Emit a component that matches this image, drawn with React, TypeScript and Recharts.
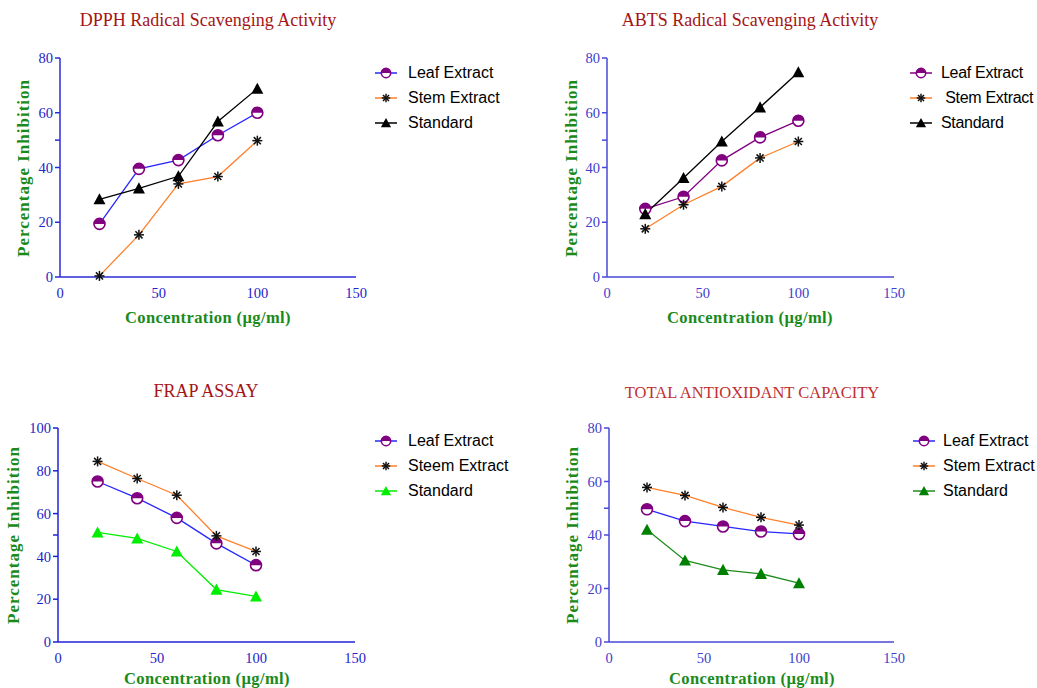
import React from 'react'
import { LineChart, Line, XAxis, YAxis } from 'recharts'

// concentrations (µg/ml) shared by every assay
const concentrations = [20, 40, 60, 80, 100]

const dpphLeaf = [19.4, 39.5, 42.7, 51.8, 60]
const dpphStem = [0.4, 15.4, 34, 36.7, 49.8]
const dpphStandard = [28.4, 32.4, 36.8, 56.8, 68.8]

const abtsLeaf = [24.9, 29.3, 42.6, 51, 57.1]
const abtsStem = [17.6, 26.4, 33.1, 43.5, 49.5]
const abtsStandard = [23, 36.2, 49.5, 62, 74.8]

const frapLeaf = [75, 67.2, 58, 46.1, 35.9]
const frapStem = [84.4, 76.4, 68.6, 49.6, 42.3]
const frapStandard = [51.2, 48.4, 42.3, 24.5, 21.3]

const tacLeaf = [49.6, 45.2, 43.2, 41.3, 40.4]
const tacStem = [57.8, 54.8, 50.3, 46.6, 43.7]
const tacStandard = [42, 30.5, 27, 25.5, 22]

const xTicks = [0, 50, 100, 150]
const yTicks80 = [0, 20, 40, 50, 60, 80]
const yTicks100 = [0, 20, 40, 50, 60, 80, 100]

const xLabel = 'Concentration (µg/ml)'
const yLabel = 'Percentage Inhibition'

const buildRows = (leaf: number[], stem: number[], standard: number[]) =>
  concentrations.map((c, i) => ({ conc: c, leaf: leaf[i], stem: stem[i], standard: standard[i] }))

type Kind = 'half' | 'star' | 'tri'

function marker(kind: Kind, color: string, cx: number, cy: number, key?: string, s = 1) {
  if (cx == null || cy == null) return <g key={key} />
  if (kind === 'half') {
    const r = 5.5 * s
    return (
      <g key={key}>
        <circle cx={cx} cy={cy} r={r} fill="#fff" stroke={color} strokeWidth={1.6} />
        <path d={`M${cx - r},${cy} A${r},${r} 0 0 1 ${cx + r},${cy} Z`} fill={color} />
      </g>
    )
  }
  if (kind === 'star') {
    const r = 5 * s
    const d = r * 0.7071
    return (
      <g key={key} stroke={color} strokeWidth={1.5}>
        <line x1={cx - r} y1={cy} x2={cx + r} y2={cy} />
        <line x1={cx} y1={cy - r} x2={cx} y2={cy + r} />
        <line x1={cx - d} y1={cy - d} x2={cx + d} y2={cy + d} />
        <line x1={cx - d} y1={cy + d} x2={cx + d} y2={cy - d} />
      </g>
    )
  }
  const h = 6 * s
  return (
    <polygon
      key={key}
      points={`${cx},${cy - h} ${cx - h},${cy + h * 0.85} ${cx + h},${cy + h * 0.85}`}
      fill={color}
    />
  )
}

type Series = { key: string; label: string; line: string; mark: string; kind: Kind }

type PanelProps = {
  title: string
  titleColor: string
  titleSize: number
  titleY: number
  titleX: number
  box: { x: number; y: number; w: number; h: number }
  plot: { l: number; r: number; t: number; b: number }
  yMax: number
  yTicks: number[]
  rows: any[]
  series: Series[]
  axisColor: string
  tickColor: string
  legend: { iconX: number; textX: number; y: number; spacing?: number }
  yLab: { x: number; y: number }
  xLab: { x: number; y: number }
}

const serif = '"Liberation Serif", "Times New Roman", serif'

function Panel(p: PanelProps) {
  const yAxisW = 40
  const xAxisH = 30
  const margin = {
    left: p.plot.l - p.box.x - yAxisW,
    top: p.plot.t - p.box.y,
    right: p.box.x + p.box.w - p.plot.r,
    bottom: p.box.y + p.box.h - p.plot.b - xAxisH,
  }
  const tick = { fill: p.tickColor, fontSize: 14.5, fontFamily: serif }
  return (
    <div style={{ position: 'absolute', left: p.box.x, top: p.box.y, width: p.box.w, height: p.box.h }}>
      <LineChart width={p.box.w} height={p.box.h} data={p.rows} margin={margin}>
        <XAxis
          dataKey="conc"
          type="number"
          domain={[0, 150]}
          ticks={xTicks}
          height={xAxisH}
          tickLine={false}
          tickSize={9}
          tickMargin={2}
          tick={tick}
          axisLine={{ stroke: p.axisColor, strokeWidth: 1.5 }}
        />
        <YAxis
          type="number"
          domain={[0, p.yMax]}
          ticks={p.yTicks}
          width={yAxisW}
          tickSize={5}
          tickMargin={2}
          tick={tick}
          tickFormatter={(v: number) => (v === 50 ? '' : String(v))}
          tickLine={{ stroke: p.axisColor, strokeWidth: 1.5 }}
          axisLine={{ stroke: p.axisColor, strokeWidth: 1.5 }}
        />
        {p.series.map((s) => (
          <Line
            key={s.key}
            dataKey={s.key}
            stroke={s.line}
            strokeWidth={1.3}
            isAnimationActive={false}
            dot={(d: any) => marker(s.kind, s.mark, d.cx, d.cy, `${s.key}-${d.index}`)}
          />
        ))}
      </LineChart>

      <div
        style={{
          position: 'absolute',
          left: p.titleX - p.box.x,
          top: p.titleY - p.box.y,
          transform: 'translate(-50%, -50%)',
          whiteSpace: 'nowrap',
          fontFamily: serif,
          fontSize: p.titleSize,
          color: p.titleColor,
        }}
      >
        {p.title}
      </div>

      <div
        style={{
          position: 'absolute',
          left: p.yLab.x - p.box.x,
          top: p.yLab.y - p.box.y,
          transform: 'translate(-50%, -50%) rotate(-90deg)',
          whiteSpace: 'nowrap',
          fontFamily: serif,
          fontWeight: 'bold',
          fontSize: 17,
          letterSpacing: 1,
          color: '#1a8a1a',
        }}
      >
        {yLabel}
      </div>

      <div
        style={{
          position: 'absolute',
          left: p.xLab.x - p.box.x,
          top: p.xLab.y - p.box.y,
          transform: 'translate(-50%, -50%)',
          whiteSpace: 'nowrap',
          fontFamily: serif,
          fontWeight: 'bold',
          fontSize: 16.5,
          letterSpacing: 0.4,
          color: '#1a8a1a',
        }}
      >
        {xLabel}
      </div>

      {p.series.map((s, i) => {
        const cy = p.legend.y + i * 25 - p.box.y
        return (
          <div key={s.key} style={{ position: 'absolute', left: 0, top: 0 }}>
            <svg
              width={24}
              height={16}
              style={{ position: 'absolute', left: p.legend.iconX - p.box.x, top: cy - 8 }}
            >
              <line x1={0} y1={8} x2={22} y2={8} stroke={s.line} strokeWidth={1.5} />
              {marker(s.kind, s.mark, 11, 8, undefined, 0.85)}
            </svg>
            <div
              style={{
                position: 'absolute',
                left: p.legend.textX - p.box.x,
                top: cy - 10,
                whiteSpace: 'pre',
                fontFamily: '"Liberation Sans", Arial, sans-serif',
                fontSize: 16,
                letterSpacing: p.legend.spacing ?? 0,
                lineHeight: '20px',
                color: '#000',
              }}
            >
              {s.label}
            </div>
          </div>
        )
      })}
    </div>
  )
}

export default function App() {
  return (
    <div style={{ position: 'relative', width: 1037, height: 688, background: '#fff', overflow: 'hidden' }}>
      <style>{'body{margin:0}'}</style>
      <Panel
        title="DPPH Radical Scavenging Activity"
        titleColor="#a31515"
        titleSize={18}
        titleX={208}
        titleY={20}
        box={{ x: 0, y: 0, w: 518, h: 344 }}
        plot={{ l: 60, r: 356, t: 58, b: 277 }}
        yMax={80}
        yTicks={yTicks80}
        rows={buildRows(dpphLeaf, dpphStem, dpphStandard)}
        series={[
          { key: 'leaf', label: 'Leaf Extract', line: '#2626ff', mark: '#800080', kind: 'half' },
          { key: 'stem', label: 'Stem Extract', line: '#ff7f2a', mark: '#111', kind: 'star' },
          { key: 'standard', label: 'Standard', line: '#000', mark: '#000', kind: 'tri' },
        ]}
        axisColor="#2b2bd9"
        tickColor="#2323c8"
        legend={{ iconX: 375, textX: 408, y: 73 }}
        yLab={{ x: 24, y: 168 }}
        xLab={{ x: 208, y: 318 }}
      />
      <Panel
        title="ABTS Radical Scavenging Activity"
        titleColor="#a31515"
        titleSize={18}
        titleX={750}
        titleY={20}
        box={{ x: 518, y: 0, w: 519, h: 344 }}
        plot={{ l: 607, r: 894, t: 58, b: 277 }}
        yMax={80}
        yTicks={yTicks80}
        rows={buildRows(abtsLeaf, abtsStem, abtsStandard)}
        series={[
          { key: 'leaf', label: 'Leaf Extract', line: '#800080', mark: '#800080', kind: 'half' },
          { key: 'stem', label: ' Stem Extract', line: '#ff7f2a', mark: '#111', kind: 'star' },
          { key: 'standard', label: 'Standard', line: '#000', mark: '#000', kind: 'tri' },
        ]}
        axisColor="#4848d8"
        tickColor="#4040cc"
        legend={{ iconX: 910, textX: 941, y: 73, spacing: -0.3 }}
        yLab={{ x: 572, y: 168 }}
        xLab={{ x: 750, y: 318 }}
      />
      <Panel
        title="FRAP ASSAY"
        titleColor="#a31515"
        titleSize={18}
        titleX={206}
        titleY={391}
        box={{ x: 0, y: 344, w: 518, h: 344 }}
        plot={{ l: 58, r: 355, t: 428, b: 642 }}
        yMax={100}
        yTicks={yTicks100}
        rows={buildRows(frapLeaf, frapStem, frapStandard)}
        series={[
          { key: 'leaf', label: 'Leaf Extract', line: '#2626ff', mark: '#800080', kind: 'half' },
          { key: 'stem', label: 'Steem Extract', line: '#ff7f2a', mark: '#111', kind: 'star' },
          { key: 'standard', label: 'Standard', line: '#00ee00', mark: '#00ee00', kind: 'tri' },
        ]}
        axisColor="#2020d8"
        tickColor="#2323c8"
        legend={{ iconX: 375, textX: 408, y: 441 }}
        yLab={{ x: 14, y: 535 }}
        xLab={{ x: 207, y: 679 }}
      />
      <Panel
        title="TOTAL ANTIOXIDANT CAPACITY"
        titleColor="#c03030"
        titleSize={16.5}
        titleX={752}
        titleY={393}
        box={{ x: 518, y: 344, w: 519, h: 344 }}
        plot={{ l: 609, r: 894, t: 428, b: 642 }}
        yMax={80}
        yTicks={yTicks80}
        rows={buildRows(tacLeaf, tacStem, tacStandard)}
        series={[
          { key: 'leaf', label: 'Leaf Extract', line: '#2626ff', mark: '#800080', kind: 'half' },
          { key: 'stem', label: 'Stem Extract', line: '#ff7f2a', mark: '#111', kind: 'star' },
          { key: 'standard', label: 'Standard', line: '#1e8c1e', mark: '#008000', kind: 'tri' },
        ]}
        axisColor="#4848d8"
        tickColor="#4040cc"
        legend={{ iconX: 913, textX: 943, y: 441 }}
        yLab={{ x: 573, y: 535 }}
        xLab={{ x: 752, y: 679 }}
      />
    </div>
  )
}
